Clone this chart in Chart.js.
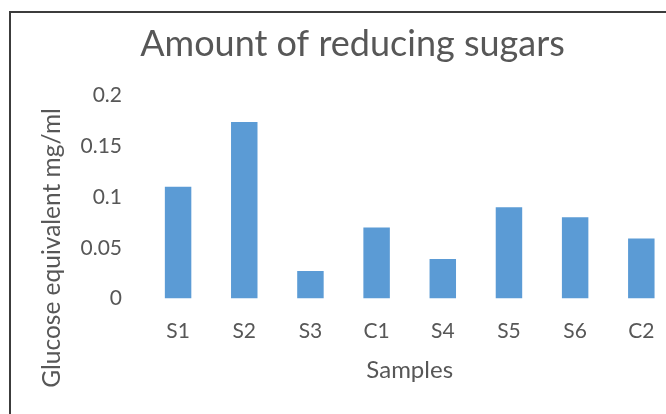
<!DOCTYPE html>
<html>
<head>
<meta charset="utf-8">
<script src="https://cdn.jsdelivr.net/npm/chart.js@4.4.0/dist/chart.umd.min.js"></script>
<style>
  html, body { margin: 0; padding: 0; overflow: hidden; background: #fff; width: 666px; height: 414px; }
  canvas { display: block; }
</style>
</head>
<body>
<canvas id="c" width="705" height="414"></canvas>
<script>
// Data
const samples = ['S1', 'S2', 'S3', 'C1', 'S4', 'S5', 'S6', 'C2'];
const reducingSugars = [0.11, 0.174, 0.027, 0.07, 0.039, 0.09, 0.08, 0.059];
const yTicks = [0, 0.05, 0.1, 0.15, 0.2];
const chartTitle = 'Amount of reducing sugars';
const xTitle = 'Samples';
const yTitle = 'Glucose equivalent mg/ml';

// Styling
const FONT = 'Lato, "Open Sans", sans-serif';
const TEXT = '#575757';
const BAR = '#5b9bd5';

// Chart frame (top/left edges) and the rotated value-axis caption
const frameAndYTitle = {
  id: 'frameAndYTitle',
  beforeDraw(chart) {
    const ctx = chart.ctx;
    ctx.save();
    ctx.fillStyle = '#ffffff';
    ctx.fillRect(0, 0, chart.width, chart.height);
    ctx.strokeStyle = '#3c3c3c';
    ctx.lineWidth = 2;
    ctx.strokeRect(10, 12, chart.width - 20, chart.height + 20);
    ctx.restore();
  },
  afterDraw(chart) {
    const ctx = chart.ctx;
    ctx.save();
    ctx.translate(52, 248);
    ctx.rotate(-Math.PI / 2);
    ctx.font = '24.5px ' + FONT;
    ctx.fillStyle = TEXT;
    ctx.textAlign = 'center';
    ctx.textBaseline = 'middle';
    ctx.fillText(yTitle, 0, 0);
    ctx.restore();
  }
};

new Chart(document.getElementById('c'), {
  type: 'bar',
  data: {
    labels: samples,
    datasets: [{
      data: reducingSugars,
      backgroundColor: BAR,
      borderWidth: 0,
      barPercentage: 1,
      categoryPercentage: 0.4
    }]
  },
  plugins: [frameAndYTitle],
  options: {
    responsive: false,
    animation: false,
    devicePixelRatio: 1,
    layout: { padding: { left: 30.6, right: 30.6, top: 0, bottom: 0 } },
    plugins: {
      legend: { display: false },
      tooltip: { enabled: false },
      title: {
        display: true,
        text: chartTitle,
        color: TEXT,
        font: { family: FONT, size: 36, weight: 'normal' },
        padding: { top: 22.4, bottom: 29.9 }
      }
    },
    scales: {
      x: {
        grid: { display: false, drawTicks: false },
        border: { display: false },
        ticks: { color: TEXT, font: { family: FONT, size: 21 }, padding: 20 },
        title: {
          display: true,
          text: xTitle,
          color: TEXT,
          font: { family: FONT, size: 24 },
          padding: { top: 0, bottom: 29.6 }
        },
        afterFit(s) { s.height = 115.5; }
      },
      y: {
        min: 0,
        max: 0.2,
        grid: { display: false, drawTicks: false },
        border: { display: false },
        ticks: {
          color: TEXT,
          font: { family: FONT, size: 21 },
          padding: 23,
          callback: v => String(v)
        },
        afterBuildTicks(s) { s.ticks = yTicks.map(v => ({ value: v })); },
        afterFit(s) { s.width = 114.4; }
      }
    }
  }
});
</script>
</body>
</html>
